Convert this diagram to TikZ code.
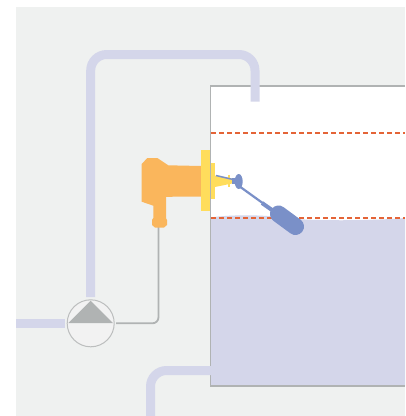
\documentclass[tikz,border=0pt]{standalone}
\usepackage{xcolor}
\usetikzlibrary{positioning}
\definecolor{panelgrey}{RGB}{239,241,240}
\definecolor{pipeblue}{RGB}{212,214,234}
\definecolor{wiregrey}{RGB}{176,179,179}
\definecolor{housingorange}{RGB}{250,182,92}
\definecolor{flangeyellow}{RGB}{255,221,92}
\definecolor{floatblue}{RGB}{122,144,200}
\definecolor{levelred}{RGB}{228,100,55}
\tikzset{
  pipe/.style={draw=pipeblue, line width=9pt, rounded corners=16pt},
  wire/.style={draw=wiregrey, line width=1.8pt, rounded corners=6pt},
  level/.style={draw=levelred, line width=1.1pt, dash pattern=on 4.5pt off 3.5pt},
  pumpcircle/.style={circle, draw=wiregrey!85!white, fill=white!95!black, line width=1pt, minimum size=47pt, inner sep=0pt}
}
\begin{document}
\begin{tikzpicture}[x=1pt, y=-1pt]
  \useasboundingbox (0,0) rectangle (406,416);
  \fill[panelgrey] (16,7) rectangle (405,416);

  % tank
  \fill[white] (210.5,86) rectangle (405,222);
  \fill[pipeblue] (210.5,217.5) .. controls (230,214.5) and (265,214.5) .. (285,218) .. controls (310,221) and (370,221) .. (405,218) -- (405,386) -- (210.5,386) -- cycle;
  \draw[wiregrey, line width=1.5pt] (405,86) -- (210.5,86) -- (210.5,386) -- (405,386);
  \foreach \y in {133,218} {\draw[level] (211,\y) -- (405,\y);}

  % pipes
  \node[pumpcircle] (pump) at (90.7,323.3) {};
  \coordinate (inlet) at (16,323.3);
  \coordinate (pumpin) at (65,323.3);
  \coordinate (pumpout) at (90.7,297);
  \coordinate (tankin) at (255,101.5);
  \coordinate (drain) at (150.5,416);
  \coordinate (tankout) at (211,370.5);
  \coordinate (sensor) at (158.5,227);
  \draw[pipe] (inlet) -- (pumpin);
  \draw[pipe] (pumpout) -- (90.7,54.5) -- (255,54.5) -- (tankin);
  \draw[pipe] (drain) -- (150.5,370.5) -- (tankout);
  \draw[wire] (pump.east) ++(1.5,0) coordinate (pumpctl) -- (158.5,323.3) -- (sensor);
  \fill[wiregrey] (90.7,300.7) -- (113,323) -- (68.4,323) -- cycle;

  % switch housing
  \fill[housingorange] (141.7,164) -- (147.3,158) -- (157.3,158) -- (168.3,165.3) -- (201,166) -- (201,196.5) -- (166,196.8)
    -- (166,218) -- (167,220) -- (167,225) -- (164,227.5) -- (155,227.5) -- (152,225) -- (152,220) -- (153.3,218) -- (153.3,205.7) -- (141.7,201.7) -- cycle;
  \fill[flangeyellow] (201,150) rectangle (210,210.7);
  \fill[flangeyellow] (211,163.3) rectangle (215,198.7);
  \fill[flangeyellow] (215,175.5) -- (232,178.5) -- (232,183.5) -- (215,187) -- cycle;
  \fill[flangeyellow] (228,175) rectangle (230,186.7);

  % float arm
  \draw[floatblue, line width=1.5pt] (216,175.5) -- (233,179.5);
  \fill[floatblue] (232,178) rectangle (238,184);
  \fill[floatblue] (238.7,181.5) ellipse (4pt and 7.5pt);
  \draw[floatblue, line width=2.2pt] (239,186) -- (264,204);
  \draw[floatblue, line width=4pt] (262,203) -- (272,210);
  \draw[floatblue, line width=17pt, line cap=round] (278.5,214) -- (295.5,226.5);
\end{tikzpicture}
\end{document}
